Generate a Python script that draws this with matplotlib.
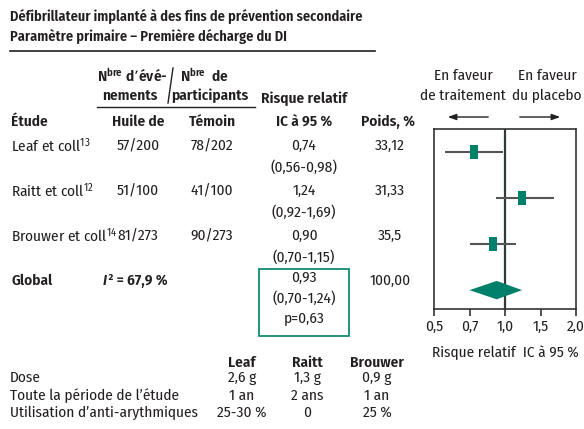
import numpy as np
import matplotlib
matplotlib.use('Agg')
import matplotlib.pyplot as plt
from matplotlib import font_manager

# police condensée (proche de Frutiger Condensed)
_names = {f.name for f in font_manager.fontManager.ttflist}
_pref = ['Fira Sans Condensed', 'PT Sans Narrow', 'Open Sans Condensed', 'Roboto Condensed',
         'Asap Condensed', 'Archivo Narrow', 'Liberation Sans']
FONT = next(n for n in _pref if n in _names or n == 'Liberation Sans')
plt.rcParams['font.family'] = [FONT, 'DejaVu Sans']
plt.rcParams['mathtext.default'] = 'regular'

# données
studies = ['Leaf et coll', 'Raitt et coll', 'Brouwer et coll']
refs = ['13', '12', '14']
n_fish = ['57/200', '51/100', '81/273']
n_ctrl = ['78/202', '41/100', '90/273']
rr = [0.74, 1.24, 0.90]
ci_lo = [0.56, 0.92, 0.70]
ci_hi = [0.98, 1.69, 1.15]
weights = ['33,12', '31,33', '35,5']
pooled_rr, pooled_lo, pooled_hi = 0.93, 0.70, 1.24
pooled_p = 0.63
pooled_weight = '100,00'
i2 = 67.9
ticks = [0.5, 0.7, 1.0, 1.5, 2.0]

trial_names = ['Leaf', 'Raitt', 'Brouwer']
char_labels = ['Dose', 'Toute la période de l\u2019étude', 'Utilisation d\u2019anti-arythmiques']
char_values = [['2,6 g', '1,3 g', '0,9 g'],
               ['1 an', '2 ans', '1 an'],
               ['25-30 %', '0', '25 %']]

TXT = '#231f20'
TEAL = '#00806b'
BOLD = 'semibold'


def fr(v):
    return f'{v:.2f}'.replace('.', ',')


W, H = 584, 429
fig = plt.figure(figsize=(W / 100, H / 100), dpi=100)

# calque texte en pixels
bg = fig.add_axes([0, 0, 1, 1])
bg.set_xlim(0, W)
bg.set_ylim(H, 0)
bg.axis('off')

fs = 11
bg.text(10, 17, 'Défibrillateur implanté à des fins de prévention secondaire',
        fontsize=10.3, fontweight=BOLD, color=TXT, va='center')
bg.text(10, 36, 'Paramètre primaire \u2013 Première décharge du DI',
        fontsize=10.3, fontweight=BOLD, color=TXT, va='center')
bg.plot([10, 375], [51, 51], color=TXT, lw=1.2)

# en-têtes
bg.text(97, 76, 'N$^{bre}$ d\u2019évé-', fontsize=fs, fontweight=BOLD, color=TXT, va='center')
bg.text(180, 76, 'N$^{bre}$  de', fontsize=fs, fontweight=BOLD, color=TXT, va='center')
bg.text(102, 96, 'nements', fontsize=fs, fontweight=BOLD, color=TXT, va='center')
bg.text(171, 96, 'participants', fontsize=fs, fontweight=BOLD, color=TXT, va='center')
bg.plot([173, 168], [68, 103], color=TXT, lw=1.0)
bg.plot([97, 255], [107, 107], color=TXT, lw=1.0)
bg.text(304, 99, 'Risque relatif', fontsize=fs, fontweight=BOLD, color=TXT, va='center', ha='center')

hy = 122
bg.text(11, hy, 'Étude', fontsize=fs, fontweight=BOLD, color=TXT, va='center')
bg.text(138, hy, 'Huile de', fontsize=fs, fontweight=BOLD, color=TXT, va='center', ha='center')
bg.text(212, hy, 'Témoin', fontsize=fs, fontweight=BOLD, color=TXT, va='center', ha='center')
bg.text(304, hy, 'IC à 95 %', fontsize=fs, fontweight=BOLD, color=TXT, va='center', ha='center')
bg.text(388, hy, 'Poids, %', fontsize=fs, fontweight=BOLD, color=TXT, va='center', ha='center')

# lignes des études
for i in range(len(studies)):
    y = 146 + i * 45
    bg.text(11, y, studies[i] + '$^{' + refs[i] + '}$', fontsize=fs, color=TXT, va='center')
    bg.text(138, y, n_fish[i], fontsize=fs, color=TXT, va='center', ha='center')
    bg.text(212, y, n_ctrl[i], fontsize=fs, color=TXT, va='center', ha='center')
    bg.text(304, y, fr(rr[i]), fontsize=fs, color=TXT, va='center', ha='center')
    bg.text(304, y + 21, f'({fr(ci_lo[i])}-{fr(ci_hi[i])})', fontsize=fs, color=TXT,
            va='center', ha='center')
    bg.text(390, y, weights[i], fontsize=fs, color=TXT, va='center', ha='center')

gy = 146 + 3 * 45
bg.text(11, gy, 'Global', fontsize=fs, fontweight=BOLD, color=TXT, va='center')
bg.text(103, gy, 'I', fontsize=fs, fontweight=BOLD, style='italic', color=TXT, va='center')
bg.text(108, gy, '² = ' + f'{i2:.1f}'.replace('.', ',') + ' %', fontsize=fs, fontweight=BOLD,
        color=TXT, va='center')
bg.text(304, gy - 3, fr(pooled_rr), fontsize=fs, color=TXT, va='center', ha='center')
bg.text(304, gy + 17, f'({fr(pooled_lo)}-{fr(pooled_hi)})', fontsize=fs, color=TXT,
        va='center', ha='center')
bg.text(304, gy + 37, f'p={fr(pooled_p)}', fontsize=fs, color=TXT, va='center', ha='center')
bg.add_patch(plt.Rectangle((259, 269), 90, 67, fill=False, edgecolor=TEAL, lw=1.2))
bg.text(390, gy, pooled_weight, fontsize=fs, color=TXT, va='center', ha='center')

# tableau du bas
cx = [242, 307, 377]
for j, name in enumerate(trial_names):
    bg.text(cx[j], 363, name, fontsize=fs, fontweight=BOLD, color=TXT, va='center', ha='center')
for k, lab in enumerate(char_labels):
    y = 378 + k * 17.5
    bg.text(10, y, lab, fontsize=fs, color=TXT, va='center')
    for j in range(len(trial_names)):
        bg.text(cx[j], y, char_values[k][j], fontsize=fs, color=TXT, va='center', ha='center')

# en faveur / flèches
bg.text(463, 76, 'En faveur', fontsize=fs, color=TXT, va='center', ha='center')
bg.text(463, 96, 'de traitement', fontsize=fs, color=TXT, va='center', ha='center')
bg.text(547, 76, 'En faveur', fontsize=fs, color=TXT, va='center', ha='center')
bg.text(547, 96, 'du placebo', fontsize=fs, color=TXT, va='center', ha='center')
arrow = dict(arrowstyle='-|>,head_length=0.5,head_width=0.18', color=TXT, lw=1.0)
bg.annotate('', xy=(445, 117), xytext=(491, 117), arrowprops=arrow)
bg.annotate('', xy=(563, 117), xytext=(517, 117), arrowprops=arrow)

# graphique en forêt
ax = fig.add_axes([434 / W, 1 - 309 / H, 142 / W, 180 / H])
pos = np.arange(len(ticks))
ax.set_xscale('function', functions=(lambda x: np.interp(x, ticks, pos),
                                     lambda p: np.interp(p, pos, ticks)))
ax.set_xlim(ticks[0], ticks[-1])
ax.set_ylim(3.41, -0.5)

rows = np.arange(len(studies))
ax.hlines(rows, ci_lo, ci_hi, color='#555555', lw=1.5, zorder=2)
rect = [(-0.27, -0.5), (0.27, -0.5), (0.27, 0.5), (-0.27, 0.5), (-0.27, -0.5)]
ax.plot(rr, rows, linestyle='none', marker=rect, markersize=9.5, color=TEAL,
        markeredgewidth=0, zorder=3)
gr = len(studies)
ax.fill([pooled_lo, pooled_rr, pooled_hi, pooled_rr], [gr, gr - 0.2, gr, gr + 0.2],
        color=TEAL, lw=0, zorder=3)
ax.axvline(1.0, color='#2e3b36', lw=1.6, zorder=1)

ax.set_xticks(ticks)
ax.set_xticklabels([f'{t:.1f}'.replace('.', ',') for t in ticks], fontsize=fs, color=TXT)
ax.set_yticks([])
ax.tick_params(axis='x', direction='out', length=5, width=1.2, color='#333333', pad=3)
for s in ax.spines.values():
    s.set_color('#333333')
    s.set_linewidth(1.2)
ax.set_xlabel('Risque relatif  IC à 95 %', fontsize=fs, color=TXT, labelpad=8)

fig.savefig('out.png', dpi=100)
